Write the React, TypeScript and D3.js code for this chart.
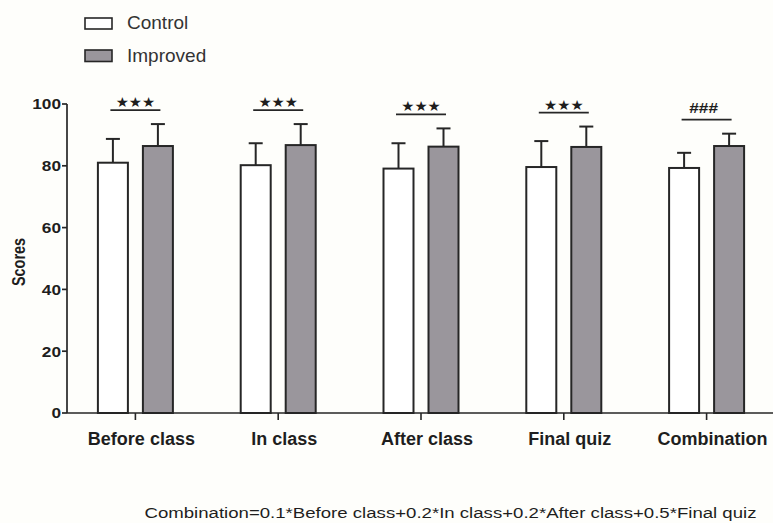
import * as d3 from 'd3';

const categories = ['Before class', 'In class', 'After class', 'Final quiz', 'Combination'];
const groups = ['Control', 'Improved'];
const controlMeans = [81.0, 80.2, 79.1, 79.6, 79.3];
const controlSD = [7.7, 7.1, 8.2, 8.4, 4.9];
const improvedMeans = [86.4, 86.7, 86.2, 86.1, 86.4];
const improvedSD = [7.1, 6.8, 5.9, 6.6, 4.0];
const marks = ['★★★', '★★★', '★★★', '★★★', '###'];
const yTickValues = [0, 20, 40, 60, 80, 100];
const footnote = 'Combination=0.1*Before class+0.2*In class+0.2*After class+0.5*Final quiz';

const W = 773;
const H = 523;
const fills = { Control: '#ffffff', Improved: '#9a969c' };
const ink = '#262626';

export default function App() {
  const x = d3.scaleBand<string>().domain(categories).range([64, 778]);
  const xg = d3.scaleBand<string>().domain(groups).range([-37.5, 37.5]).paddingInner(1 / 3);
  const y = d3.scaleLinear().domain([0, 100]).range([413, 104]);
  const axisX = 67;

  const rows = categories.map((c, i) => ({
    cat: c,
    cx: x(c)! + x.bandwidth() / 2,
    bars: [
      { g: 'Control', mean: controlMeans[i], sd: controlSD[i] },
      { g: 'Improved', mean: improvedMeans[i], sd: improvedSD[i] },
    ],
    mark: marks[i],
  }));

  return (
    <svg width={W} height={H} style={{ position: 'absolute', left: 0, top: 0, background: '#fefefb' }}
      fontFamily="'Liberation Sans', Arial, sans-serif">
      {/* legend */}
      <rect x={85} y={18} width={27} height={11} fill={fills.Control} stroke={ink} strokeWidth={1.6} />
      <text x={127} y={29} fontSize={19} fill="#333">Control</text>
      <rect x={85} y={50} width={27} height={11.5} fill={fills.Improved} stroke={ink} strokeWidth={1.6} />
      <text x={127} y={61.5} fontSize={19} fill="#333">Improved</text>

      {/* y axis */}
      <line x1={axisX} x2={axisX} y1={y(100)} y2={y(0)} stroke={ink} strokeWidth={1.7} />
      {yTickValues.map(t => (
        <g key={t}>
          <line x1={axisX - 5} x2={axisX} y1={y(t)} y2={y(t)} stroke={ink} strokeWidth={1.7} />
          <text transform={`translate(61,${y(t) + 5.3}) scale(1.15,1)`} textAnchor="end" fontSize={15}
            fontWeight="bold" fill="#1e1e1e">{t}</text>
        </g>
      ))}
      <text transform={`translate(25,262) rotate(-90) scale(0.78,1)`} textAnchor="middle" fontSize={18.5}
        fontWeight="bold" fill="#1e1e1e">Scores</text>

      {/* bars */}
      {rows.map(r => (
        <g key={r.cat}>
          {r.bars.map(b => {
            const bx = r.cx + xg(b.g)!;
            const mid = bx + xg.bandwidth() / 2;
            return (
              <g key={b.g}>
                <line x1={mid} x2={mid} y1={y(b.mean)} y2={y(b.mean + b.sd)} stroke={ink} strokeWidth={2} />
                <line x1={mid - 7} x2={mid + 7} y1={y(b.mean + b.sd)} y2={y(b.mean + b.sd)} stroke={ink} strokeWidth={2} />
                <rect x={bx} y={y(b.mean)} width={xg.bandwidth()} height={y(0) - y(b.mean)}
                  fill={fills[b.g as 'Control']} stroke={ink} strokeWidth={2} />
              </g>
            );
          })}
        </g>
      ))}

      {/* x axis */}
      <line x1={axisX} x2={W} y1={y(0)} y2={y(0)} stroke={ink} strokeWidth={1.7} />
      {rows.map(r => (
        <g key={r.cat}>
          <line x1={r.cx} x2={r.cx} y1={y(0)} y2={y(0) + 7} stroke={ink} strokeWidth={1.6} />
          <text x={r.cx + 6} y={445} textAnchor="middle" fontSize={18} fontWeight="bold" fill="#1e1e1e">{r.cat}</text>
        </g>
      ))}

      {/* significance marks */}
      {rows.map(r => {
        const ly = d3.min(r.bars, b => y(b.mean + b.sd))! - 14;
        const isHash = r.mark.startsWith('#');
        return (
          <g key={r.cat}>
            <line x1={r.cx - 25} x2={r.cx + 25} y1={ly} y2={ly} stroke={ink} strokeWidth={1.7} />
            {isHash ? (
              <text transform={`translate(${r.cx - 3},${ly - 6.5}) scale(1.15,1)`} textAnchor="middle"
                fontSize={15} fontWeight="bold" fill="#1e1e1e">{r.mark}</text>
            ) : (
              <text transform={`translate(${r.cx},${ly - 3}) scale(1.05,1)`} textAnchor="middle"
                fontSize={14} fontFamily="'DejaVu Sans'" fill="#1e1e1e">{r.mark}</text>
            )}
          </g>
        );
      })}

      {/* footnote */}
      <text x={144.5} y={518} fontSize={15.5} fill="#1e1e1e" textLength={612} lengthAdjust="spacingAndGlyphs">{footnote}</text>
    </svg>
  );
}
